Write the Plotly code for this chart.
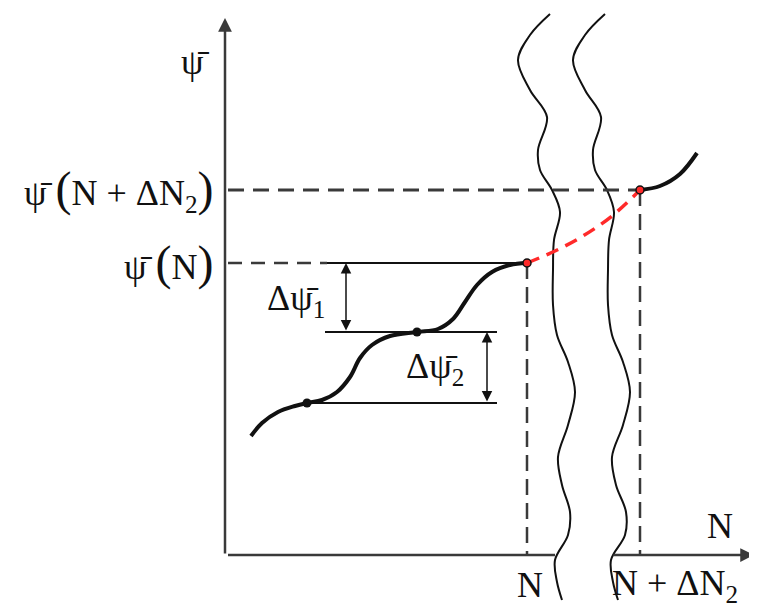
import plotly.graph_objects as go

# main staircase curve, in picture pixels (x right, y down)
curve_x = [251, 262, 278, 295, 307, 322, 337, 350, 360, 372, 390, 417, 438, 453, 465, 477, 492, 510, 527]
curve_y = [436, 423, 412, 406, 403, 400, 392, 377, 358, 345, 336, 332, 329, 319, 302, 285, 272, 265, 263]

# extrapolated part (red) and the continuation after N + dN2
extra_x = [527, 555, 583, 612, 640]
extra_y = [263, 251, 236, 216, 190]
tail_x = [640, 660, 680, 697]
tail_y = [190, 186, 174, 153]

# marked points on the curve
dot_x = [307, 417]
dot_y = [403, 332]
red_dot_x = [527, 640]
red_dot_y = [263, 190]

# the two wavy break lines
wave1_x = [550, 530, 518, 530, 547, 538, 540, 552, 560, 554, 553, 553, 557, 568, 575, 568, 558, 562, 570, 568, 555, 557, 562]
wave1_y = [14, 35, 60, 90, 117, 150, 170, 190, 212, 240, 270, 305, 335, 362, 392, 425, 457, 485, 512, 535, 560, 582, 600]
wave2_x = [605, 585, 573, 585, 601, 593, 595, 607, 614, 609, 608, 608, 612, 623, 630, 623, 612, 616, 626, 625, 611, 613, 618]
wave2_y = [14, 35, 60, 90, 117, 150, 170, 190, 212, 240, 270, 305, 335, 362, 392, 425, 457, 485, 512, 535, 560, 582, 600]

# axes / levels
x0, y0 = 228, 555
x_N, x_N2 = 527, 640
lvl_N2, lvl_N, lvl_1, lvl_2 = 190, 263, 332, 403

SERIF = "Liberation Serif, Times New Roman, serif"
INK = "#111111"
GREY = "#3a3a3a"
PAGE_MARGIN = 8  # body margin of the html page

fig = go.Figure()


def seg(xs, ys, color=INK, width=2, dash="solid", shape="linear"):
    fig.add_trace(go.Scatter(x=xs, y=ys, mode="lines", hoverinfo="skip",
                             line=dict(color=color, width=width, dash=dash, shape=shape)))


# wavy break lines
seg(wave1_x, wave1_y, width=2, shape="spline")
seg(wave2_x, wave2_y, width=2, shape="spline")

# dashed guides
seg([x0, x_N2], [lvl_N2, lvl_N2], color=GREY, width=3, dash="16px,9px")
seg([x0, 327], [lvl_N, lvl_N], color=GREY, width=2.5, dash="14px,9px")
seg([x_N, x_N], [lvl_N, y0], color=GREY, width=2.5, dash="16px,8px")
seg([x_N2, x_N2], [lvl_N2, y0], color=GREY, width=2.5, dash="16px,8px")

# solid level lines
seg([327, x_N], [lvl_N, lvl_N], width=2)
seg([325, 497], [lvl_1, lvl_1], width=2)
seg([307, 497], [lvl_2, lvl_2], width=2)

# x axis left part (right part drawn as arrow below)
seg([x0, 555], [y0, y0], color=GREY, width=2.5)

# curves
seg(curve_x, curve_y, width=4, shape="spline")
seg(tail_x, tail_y, width=4, shape="spline")
seg(extra_x, extra_y, color="#ff2a2a", width=3.5, dash="13px,8px", shape="spline")

fig.add_trace(go.Scatter(x=dot_x, y=dot_y, mode="markers", hoverinfo="skip",
                         marker=dict(color=INK, size=9)))
fig.add_trace(go.Scatter(x=red_dot_x, y=red_dot_y, mode="markers", hoverinfo="skip",
                         marker=dict(color="#ff2a2a", size=8, line=dict(color=INK, width=1.5))))

# axis arrows
arrows = [
    dict(x=225, y=18, ax=225, ay=y0, arrowhead=2, arrowsize=1.1, arrowwidth=2.5, arrowcolor=GREY),
    dict(x=754, y=y0, ax=612, ay=y0, arrowhead=2, arrowsize=1.1, arrowwidth=2.5, arrowcolor=GREY),
    dict(x=346, y=lvl_N, ax=346, ay=lvl_1, arrowhead=2, arrowsize=1.4, arrowwidth=1.5,
         arrowcolor=INK, arrowside="end+start"),
    dict(x=487, y=lvl_1, ax=487, ay=lvl_2, arrowhead=2, arrowsize=1.4, arrowwidth=1.5,
         arrowcolor=INK, arrowside="end+start"),
]
for a in arrows:
    fig.add_annotation(text="", showarrow=True, xref="x", yref="y", axref="x", ayref="y", **a)

PSI = "ψ\u0304"
SP = "\u00a0"
big = lambda s: f'<span style="font-size:48px">{s}</span>'
labels = [
    (195, 62, "center", PSI),
    (216, 190, "right", f"{PSI}{SP}{big('(')}N{SP}+{SP}ΔN<sub>2</sub>{big(')')}"),
    (216, 263, "right", f"{PSI}{SP}{big('(')}N{big(')')}"),
    (296, 300, "center", f"Δ{PSI}<sub>1</sub>"),
    (435, 368, "center", f"Δ{PSI}<sub>2</sub>"),
    (720, 526, "center", "N"),
    (530, 585, "center", "N"),
    (610, 585, "left", f"N{SP}+{SP}ΔN<sub>2</sub>"),
]
for x, y, anchor, text in labels:
    fig.add_annotation(x=x, y=y, text=text, showarrow=False, xanchor=anchor, yanchor="middle",
                       font=dict(family=SERIF, size=36, color=INK))

# ranges offset by the page margin so a data unit lands on the same window pixel
fig.update_layout(
    width=757, height=608,
    margin=dict(l=0, r=0, t=0, b=0),
    paper_bgcolor="white", plot_bgcolor="white",
    showlegend=False,
    xaxis=dict(range=[PAGE_MARGIN, 757 + PAGE_MARGIN], visible=False),
    yaxis=dict(range=[608 + PAGE_MARGIN, PAGE_MARGIN], visible=False),
)

fig.write_html("out.html")
